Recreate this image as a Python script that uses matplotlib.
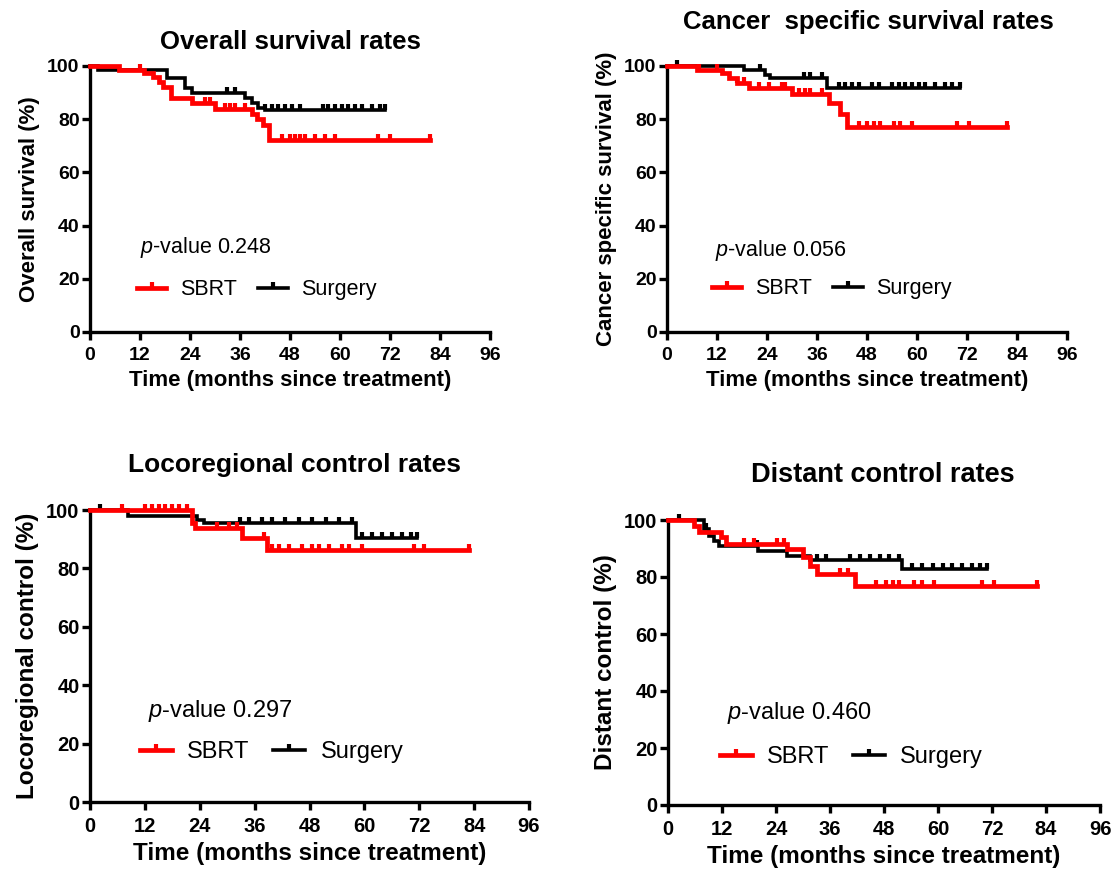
import numpy as np
import matplotlib
matplotlib.use("Agg")
import matplotlib.pyplot as plt
from matplotlib.lines import Line2D

plt.rcParams["font.family"] = ["Liberation Sans", "DejaVu Sans"]
plt.rcParams["mathtext.fontset"] = "custom"
plt.rcParams["mathtext.it"] = "Liberation Sans:italic"
plt.rcParams["mathtext.rm"] = "Liberation Sans"

# Overall survival
os_sbrt_t = [0, 7, 13, 15, 16.5, 17.5, 19.5, 24.5, 30, 39, 40, 41.5, 43]
os_sbrt_s = [100, 98.5, 97.5, 96, 94, 92, 88, 86, 84, 82, 80, 78, 72.3]
os_sbrt_cens = [12, 27.6, 28.8, 32.4, 33.6, 34.8, 37.2, 46, 48, 49.2, 50.4, 51.6,
                54, 56.4, 58.8, 69.2, 72, 81.6]
os_surg_t = [0, 1.8, 18.4, 22.8, 24.4, 37.2, 38.8, 40.4, 42]
os_surg_s = [100, 98.5, 95.6, 91.6, 89.8, 87.9, 86, 84.1, 83.5]
os_surg_cens = [32.8, 34.8, 42, 43.6, 45.2, 46.8, 48.4, 50.4, 56, 57.2, 58.8, 60.4,
                62, 63.6, 65.2, 67.6, 69.6, 70.8]

# Cancer specific survival
css_sbrt_t = [0, 7.2, 13.2, 14.8, 16.8, 19.6, 30, 38.8, 41.6, 43.2]
css_sbrt_s = [100, 98.5, 97.3, 95.4, 93.5, 91.6, 89.4, 86, 81.9, 76.9]
css_sbrt_cens = [7.6, 12, 16.8, 18.4, 22, 24.4, 27.6, 28.4, 31.6, 33.2, 34.4, 37.2,
                 46, 48, 49.6, 51.2, 54.4, 56, 58.8, 69.6, 72.4, 81.6]
css_surg_t = [0, 18.4, 23.6, 24.8, 38.4]
css_surg_s = [100, 98.5, 96.6, 95.4, 91.6]
css_surg_cens = [2.4, 22.4, 32.8, 34.4, 37.2, 41.2, 42.8, 44.4, 46, 49.2, 50.8, 54,
                 55.6, 57.2, 58.8, 60.4, 62, 64.4, 66.8, 68.4, 70.4]

# Locoregional control
lrc_sbrt_t = [0, 22.3, 23, 33.2, 38.7]
lrc_sbrt_s = [100, 95.4, 93.7, 90.3, 86.3]
lrc_sbrt_cens = [6.9, 12.1, 13.5, 15, 16.4, 17.9, 19.4, 21.2, 27.8, 30.3, 32.1, 38,
                 39.8, 41.3, 43.5, 46.4, 48.6, 50, 52.2, 55.2, 56.6, 59.5, 70.9, 73, 82.8]
lrc_surg_t = [0, 8.4, 23.4, 25, 58.1]
lrc_surg_s = [100, 98, 96.6, 95.4, 90.3]
lrc_surg_cens = [2.2, 32.9, 34.7, 37.6, 39.8, 42.7, 45.7, 48.6, 51.5, 54.4, 57.3,
                 59.5, 61.7, 63.9, 66, 68.3, 70.1, 71.6]

# Distant control
dc_sbrt_t = [0, 5.8, 6.9, 11.7, 12.8, 26.4, 30, 31.5, 33, 41.5]
dc_sbrt_s = [100, 98, 95.7, 93.9, 91.6, 89.8, 86.9, 84, 81.1, 77]
dc_sbrt_cens = [16.8, 19, 24.2, 25.7, 38.2, 40, 46.3, 48.5, 49.9, 51.4, 54.7, 56.5,
                59.1, 69.8, 72.4, 81.9]
dc_surg_t = [0, 8, 9.1, 10.2, 11.3, 20.1, 26.4, 31.5, 52.1]
dc_surg_s = [100, 96.8, 94.5, 92.7, 91, 89.2, 87.5, 86, 82.8]
dc_surg_cens = [2.5, 8.4, 19.8, 33, 35.2, 40.4, 42.6, 44.8, 47, 49.2, 51.4, 54.3,
                56.5, 58.8, 61, 63.2, 65.4, 67.6, 69.4, 70.9]

panels = [
    dict(title="Overall survival rates", ylabel="Overall survival (%)", p="0.248",
         sbrt=(os_sbrt_t, os_sbrt_s, os_sbrt_cens), surg=(os_surg_t, os_surg_s, os_surg_cens),
         box=(90, 490, 66, 332), tpos=(290, 42), tfs=18.5,
         ptxt=(0.125, 0.316), leg=(0.1175, 0.158), fs=16, lfs=15.5, tkfs=14),
    dict(title="Cancer  specific survival rates", ylabel="Cancer specific survival (%)", p="0.056",
         sbrt=(css_sbrt_t, css_sbrt_s, css_sbrt_cens), surg=(css_surg_t, css_surg_s, css_surg_cens),
         box=(667, 1067, 66, 332), tpos=(868, 22), tfs=18.5,
         ptxt=(0.12, 0.308), leg=(0.1125, 0.162), fs=16, lfs=15.5, tkfs=14),
    dict(title="Locoregional control rates", ylabel="Locoregional control (%)", p="0.297",
         sbrt=(lrc_sbrt_t, lrc_sbrt_s, lrc_sbrt_cens), surg=(lrc_surg_t, lrc_surg_s, lrc_surg_cens),
         box=(90, 529, 510, 802), tpos=(295, 465), tfs=19,
         ptxt=(0.132, 0.312), leg=(0.114, 0.172), fs=17.5, lfs=17, tkfs=14.5),
    dict(title="Distant control rates", ylabel="Distant control (%)", p="0.460",
         sbrt=(dc_sbrt_t, dc_sbrt_s, dc_sbrt_cens), surg=(dc_surg_t, dc_surg_s, dc_surg_cens),
         box=(668, 1100, 520, 805), tpos=(883, 475), tfs=19.5,
         ptxt=(0.136, 0.324), leg=(0.12, 0.167), fs=17.5, lfs=17, tkfs=14.5),
]

W, H = 1113, 875
fig = plt.figure(figsize=(W / 100, H / 100), dpi=100)


def at(t, s, x):
    idx = np.searchsorted(np.asarray(t), np.asarray(x), side="right") - 1
    return np.asarray(s)[idx]


def draw_km(ax, data, color, lw, z):
    t, s, cens = data
    end = max(cens)
    ax.step(list(t) + [end], list(s) + [s[-1]], where="post", color=color, lw=lw,
            zorder=z, clip_on=False, solid_joinstyle="miter")
    ax.plot(cens, at(t, s, cens), marker=2, ls="none", color=color, ms=4.5, mew=3,
            zorder=z, clip_on=False)


for p in panels:
    x0, x1, y0, y1 = p["box"]
    ax = fig.add_axes([x0 / W, 1 - y1 / H, (x1 - x0) / W, (y1 - y0) / H])
    draw_km(ax, p["surg"], "black", 2.6, 3)
    draw_km(ax, p["sbrt"], "#ff0000", 3.4, 4)
    ax.set_xlim(0, 96)
    ax.set_ylim(0, 100)
    ax.set_xticks(range(0, 97, 12))
    ax.set_yticks(range(0, 101, 20))
    for sp in ["top", "right"]:
        ax.spines[sp].set_visible(False)
    for sp in ["left", "bottom"]:
        ax.spines[sp].set_linewidth(2.4)
    ax.tick_params(width=2.4, length=6, labelsize=p["tkfs"])
    ax.tick_params(axis="x", pad=5)
    ax.tick_params(axis="y", pad=1.5)
    for lab in ax.get_xticklabels() + ax.get_yticklabels():
        lab.set_fontweight("bold")
    ax.set_xlabel("Time (months since treatment)", fontsize=p["fs"],
                  fontweight="bold", labelpad=4)
    ax.set_ylabel(p["ylabel"], fontsize=p["fs"], fontweight="bold", labelpad=5)
    fig.text(p["tpos"][0] / W, 1 - p["tpos"][1] / H, p["title"], fontsize=p["tfs"],
             fontweight="bold", ha="center", va="center")
    ax.text(p["ptxt"][0], p["ptxt"][1], "$\\mathit{p}$-value " + p["p"],
            transform=ax.transAxes, fontsize=p["lfs"], va="center")
    handles = [
        Line2D([], [], color="#ff0000", lw=3.4, marker=2, ms=4.5, mew=3),
        Line2D([], [], color="black", lw=2.6, marker=2, ms=4.5, mew=3),
    ]
    ax.legend(handles, ["SBRT", "Surgery"], loc="center left",
              bbox_to_anchor=p["leg"], ncol=2, frameon=False, fontsize=p["lfs"],
              handlelength=1.35, handletextpad=0.65, columnspacing=1.0,
              borderaxespad=0, borderpad=0)

fig.savefig("out.png", dpi=100)
